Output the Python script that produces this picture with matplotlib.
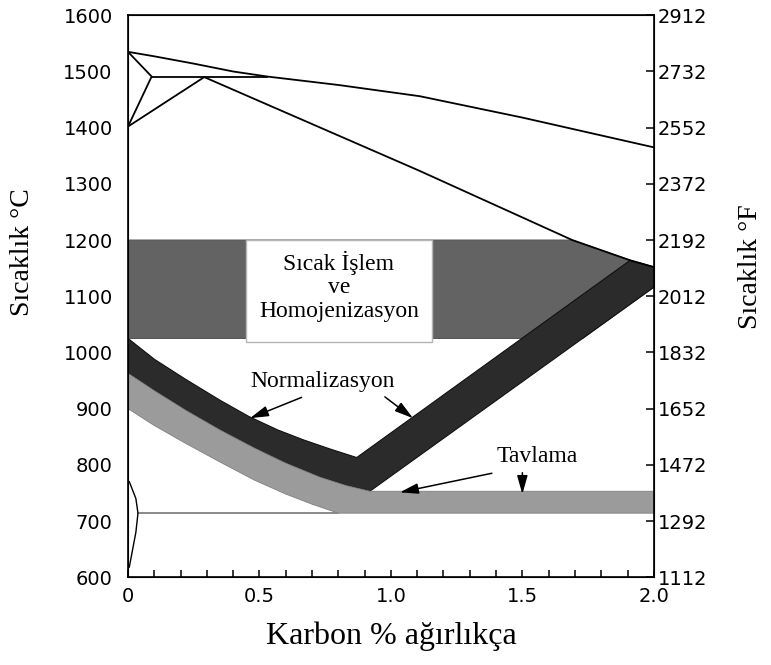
import matplotlib
matplotlib.use('Agg')
import matplotlib.pyplot as plt
import numpy as np

# phase diagram lines (wt% C, deg C)
liq_x = [0, 0.1, 0.25, 0.4, 0.53, 0.8, 1.11, 1.5, 2.0]
liq_t = [1535, 1527, 1514, 1500, 1491, 1476, 1456, 1418, 1365]
delta_x = [0, 0.09, 0]
delta_t = [1535, 1491, 1402]
peri_x = [0.09, 0.53]
peri_t = [1491, 1491]
gam_x = [0, 0.29]
gam_t = [1402, 1490]
sol_x = [0.29, 1.11, 1.69, 1.91, 2.0]
sol_t = [1490, 1323, 1200, 1164, 1152]
a1_x = [0.038, 0.8]
a1_t = [714, 714]
a3_x = [0.005, 0.03, 0.038, 0.03, 0.005]
a3_t = [770, 740, 714, 680, 618]

# hot working / homogenizing band
hot_lo, hot_hi = 1025, 1200
box_x = [0.45, 1.155]
box_t = [1018, 1200]

# normalizing band
norm_up_x = [0, 0.1, 0.22, 0.35, 0.46, 0.57, 0.67, 0.77, 0.87]
norm_up_t = [1025, 988, 952, 915, 886, 862, 844, 828, 813]
norm_in_x = [0.87, 1.91]
norm_in_t = [813, 1164]
norm_out_x = [0.92, 2.0]
norm_out_t = [753, 1116]

# annealing band
ann_up_x = [0, 0.1, 0.22, 0.35, 0.48, 0.6, 0.73, 0.83, 0.92, 2.0]
ann_up_t = [963, 932, 897, 862, 830, 803, 778, 763, 753, 753]
ann_lo_x = [0, 0.1, 0.22, 0.35, 0.48, 0.6, 0.7, 0.8, 2.0]
ann_lo_t = [900, 870, 838, 805, 773, 748, 730, 714, 714]

c_ticks = [600, 700, 800, 900, 1000, 1100, 1200, 1300, 1400, 1500, 1600]
f_labels = ['1112', '1292', '1472', '1652', '1832', '2012', '2192', '2372', '2552', '2732', '2912']
x_major = [0, 0.5, 1.0, 1.5, 2.0]
x_labels = ['0', '0.5', '1.0', '1.5', '2.0']

serif = 'Liberation Serif'

fig = plt.figure(figsize=(7.71, 6.65), dpi=100)
ax = fig.add_axes([0.166, 0.132, 0.682, 0.845])
ax.set_xlim(0, 2.0)
ax.set_ylim(600, 1600)

# hot working band (clipped by solidus and outer normalizing edge)
x_cut = np.interp(hot_lo, norm_out_t, norm_out_x)
x_top = np.interp(-hot_hi, [-t for t in sol_t], sol_x)
hot_poly = [(0, hot_lo), (0, hot_hi), (x_top, hot_hi)]
hot_poly += [(x, t) for x, t in zip(sol_x, sol_t) if x > x_top]
hot_poly += [(norm_out_x[1], norm_out_t[1]), (x_cut, hot_lo)]
ax.add_patch(plt.Polygon(hot_poly, closed=True, facecolor='#636363', edgecolor='#555555', lw=0.8, zorder=1))

# normalizing band
norm_poly = list(zip(norm_up_x, norm_up_t))
norm_poly += [(norm_in_x[1], norm_in_t[1]), (sol_x[-1], sol_t[-1]), (norm_out_x[1], norm_out_t[1]), (norm_out_x[0], norm_out_t[0])]
norm_poly += [(x, t) for x, t in zip(ann_up_x[::-1], ann_up_t[::-1]) if x < norm_out_x[0]]
ax.add_patch(plt.Polygon(norm_poly, closed=True, facecolor='#2b2b2b', edgecolor='#111111', lw=0.8, zorder=2))

# annealing band
ann_poly = list(zip(ann_up_x, ann_up_t)) + list(zip(ann_lo_x[::-1], ann_lo_t[::-1]))
ax.add_patch(plt.Polygon(ann_poly, closed=True, facecolor='#9b9b9b', edgecolor='#808080', lw=0.6, zorder=2))

# text box
ax.add_patch(plt.Rectangle((box_x[0], box_t[0]), box_x[1] - box_x[0], box_t[1] - box_t[0],
                           facecolor='white', edgecolor='#b5b5b5', lw=1.0, zorder=3))
ax.text(sum(box_x) / 2, 1118, 'Sıcak İşlem\nve\nHomojenizasyon', ha='center', va='center',
        fontsize=17, family=serif, linespacing=1.17, zorder=4)

# phase lines
for xs, ts in [(liq_x, liq_t), (delta_x, delta_t), (peri_x, peri_t), (gam_x, gam_t), (sol_x, sol_t)]:
    ax.plot(xs, ts, color='black', lw=1.3, zorder=5)
ax.plot(a1_x, a1_t, color='#777777', lw=1.2, zorder=1)
ax.plot(a3_x, a3_t, color='black', lw=1.0, zorder=1)

arrow = dict(arrowstyle='-|>,head_length=0.7,head_width=0.2', color='black', lw=1.1,
             mutation_scale=16, shrinkA=0, shrinkB=0)
ax.text(0.74, 949, 'Normalizasyon', ha='center', va='center', fontsize=17, family=serif)
ax.annotate('', xy=(0.464, 883), xytext=(0.66, 920), arrowprops=arrow)
ax.annotate('', xy=(1.084, 883), xytext=(0.977, 921), arrowprops=arrow)
ax.text(1.555, 815, 'Tavlama', ha='center', va='center', fontsize=17, family=serif)
ax.annotate('', xy=(1.034, 751), xytext=(1.384, 785), arrowprops=arrow, zorder=6)
ax.annotate('', xy=(1.50, 748), xytext=(1.50, 786), arrowprops=arrow, zorder=6)

# axes styling
for s in ax.spines.values():
    s.set_linewidth(1.2)
ax.set_xticks(x_major)
ax.set_xticklabels(x_labels)
ax.set_xticks(np.arange(0, 2.01, 0.1), minor=True)
ax.tick_params(axis='x', which='both', direction='in', length=5, width=1.1, top=False, labelsize=14, pad=7)
ax.set_yticks(c_ticks)
ax.tick_params(axis='y', length=0, pad=11, labelsize=14)

ax2 = ax.twinx()
ax2.set_ylim(600, 1600)
ax2.set_yticks(c_ticks)
ax2.set_yticklabels(f_labels)
ax2.tick_params(axis='y', direction='in', length=6, width=1.1, pad=3, labelsize=14)

ax.set_xlabel('Karbon % ağırlıkça', fontsize=23, family=serif)
ax.xaxis.set_label_coords(0.5, -0.078)
ax.set_ylabel('Sıcaklık °C', fontsize=20, family=serif, va='center')
ax.yaxis.set_label_coords(-0.2, 0.578)
ax2.set_ylabel('Sıcaklık °F', fontsize=20, family=serif, rotation=90, va='center')
ax2.yaxis.set_label_coords(1.184, 0.552)

fig.savefig('out.png', dpi=100)
